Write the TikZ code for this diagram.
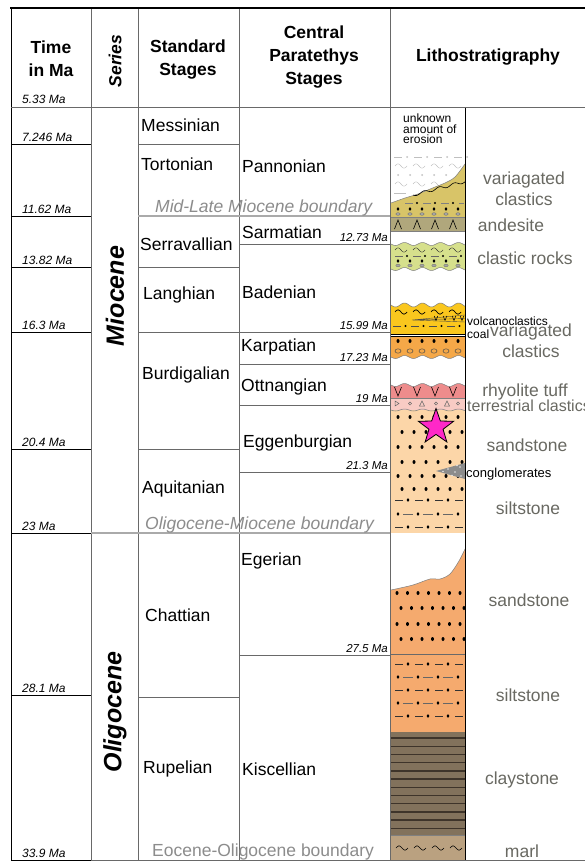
\documentclass[tikz,border=0pt]{standalone}
\usepackage{fontspec}
\setmainfont{Liberation Sans}
\usetikzlibrary{shapes.geometric}
\definecolor{rulegray}{RGB}{105,105,105}
\definecolor{bndgray}{RGB}{170,170,170}
\definecolor{bndtxt}{RGB}{140,140,140}
\definecolor{labgray}{RGB}{105,105,98}
\definecolor{varcl}{RGB}{216,196,104}
\definecolor{andes}{RGB}{176,167,124}
\definecolor{clrock}{RGB}{214,224,140}
\definecolor{volc}{RGB}{250,199,30}
\definecolor{varor}{RGB}{245,168,72}
\definecolor{rhyol}{RGB}{238,140,140}
\definecolor{terrcl}{RGB}{248,203,196}
\definecolor{sandmio}{RGB}{252,214,168}
\definecolor{sandoli}{RGB}{245,170,110}
\definecolor{claycol}{RGB}{130,114,92}
\definecolor{claylin}{RGB}{62,52,42}
\definecolor{marlcol}{RGB}{186,161,128}
\definecolor{starpink}{RGB}{255,40,200}
\tikzset{
  tld/.pic={\draw[pic actions] (-6,0) sin (-3,-2.2) cos (0,0) sin (3,2.2) cos (6,0);},
}

\begin{document}
\begin{tikzpicture}[x=1pt, y=-1pt,
    hdr/.style={font=\fontsize{17.5}{23}\selectfont\bfseries, align=center, inner sep=0},
    stage/.style={font=\fontsize{17.5}{19}\selectfont, anchor=west, inner sep=0},
    age/.style={font=\fontsize{12}{13}\selectfont\itshape, anchor=base west, inner sep=0},
    cpage/.style={font=\fontsize{11.5}{13}\selectfont\itshape, anchor=base east, inner sep=0},
    series/.style={font=\fontsize{25}{27}\selectfont\bfseries\itshape, rotate=90, inner sep=0},
    bndtext/.style={font=\fontsize{17.5}{19}\selectfont, text=bndtxt, anchor=base west, inner sep=0},
    rock/.style={font=\fontsize{17.5}{21}\selectfont, text=labgray, align=center, inner sep=0},
    small/.style={font=\fontsize{12}{13}\selectfont, anchor=base west, inner sep=0},
    rule/.style={rulegray, line width=0.8pt},
    bnd/.style={bndgray, line width=2.2pt},
    edge/.style={black!50, line width=0.5pt}
  ]
\fill[white] (0,0) rectangle (585,862);
\useasboundingbox (0,0) rectangle (585,862);

% --- lithology column ---
% eroded part, faded
\foreach \x in {394,414,434,454} {\draw[black!25] (\x,157) -- ++(8,0); \fill[black!25] (\x+13,157) circle (1);}
\foreach \x in {401,419,437,455} {\pic[draw=black!25] at (\x,166) {tld}; \pic[draw=black!25] at (\x,184) {tld};}
\foreach \x in {398,410,...,458} \fill[black!25] (\x,175) circle (1);
\draw[black!25] (394,193) -- (406,193);

% variegated clastics (upper)
\fill[varcl] plot[smooth] coordinates {(391,203) (405,198) (418,194) (435,187) (445,183) (455,177) (465,164)} -- (465,217) -- (391,217) -- cycle;
\draw[edge] plot[smooth] coordinates {(391,203) (405,198) (418,194) (435,187) (445,183) (455,177) (465,164)};
\draw[line width=0.6pt] plot[domain=413:465,samples=50] (\x,{195-(\x-413)*0.26+1.4*sin(24*(\x-413))});
\foreach \x in {405,423,441} {\draw[black!50] (\x,203) -- ++(8,0); \fill (\x+12,203) circle (1.2);}
\draw[black!50] (459,203) -- (464,203);
\foreach \x in {398,410,...,458} {\fill (\x,209) ellipse (1.4 and 1.9); \filldraw[fill=black!35, draw=black!60, line width=0.3pt] (\x,214) ellipse (2.2 and 1.3);}

% andesite
\fill[andes] (391,217) rectangle (465,231);
\draw[edge] (391,217) -- (465,217) (391,231) -- (465,231);
\foreach \x in {398,417,435,453} \draw[line width=0.6pt] (\x-3.5,229) -- (\x,220) -- (\x+3.5,229);

% clastic rocks
\fill[clrock] plot[domain=391:465,samples=50] (\x,{244+1.5*sin(20*(\x-391))}) -- plot[domain=465:391,samples=50] (\x,{269+1.5*sin(20*(\x-391))}) -- cycle;
\draw[edge] plot[domain=391:465,samples=50] (\x,{244+1.5*sin(20*(\x-391))});
\draw[edge] plot[domain=391:465,samples=50] (\x,{269+1.5*sin(20*(\x-391))});
\foreach \x in {401,419,437,455} \pic[draw=black!80] at (\x,250) {tld};
\foreach \x in {395,413,431,449} {\draw[black!60] (\x,256) -- ++(8,0); \fill (\x+12,256) circle (1.2);}
\foreach \x in {398,410,...,458} {\fill (\x,261) ellipse (1.4 and 1.9); \filldraw[fill=black!35, draw=black!60, line width=0.3pt] (\x,265.5) ellipse (2.2 and 1.3);}

% volcanoclastics and coal
\fill[volc] plot[domain=391:465,samples=50] (\x,{305+2*sin(20*(\x-391))}) -- (465,334) -- (391,334) -- cycle;
\draw[edge] plot[domain=391:465,samples=50] (\x,{305+2*sin(20*(\x-391))});
\foreach \x in {401,419,437,455} \pic[draw=black, line width=0.7pt] at (\x,312) {tld};
\draw[black!70, line width=0.4pt] (412,320) -- (465,315) (412,320) -- (465,318.5) (412,320) -- (465,322);
\foreach \x in {436,445,454,462} \draw[line width=0.5pt] (\x-1.8,316) -- (\x,320.5) -- (\x+1.8,316);
\foreach \x in {393,411,429,447} {\draw[black!70] (\x,326) -- ++(8,0); \fill (\x+12.5,326) circle (1.2);}
\draw[line width=0.9pt] (391,334) -- (465,334);
\draw[line width=0.6pt] (391,336.5) -- (465,336.5);

% variegated clastics (lower)
\fill[varor] (391,337) -- (465,337) -- plot[domain=465:391,samples=50] (\x,{357+1.5*sin(20*(\x-391))}) -- cycle;
\draw[edge] plot[domain=391:465,samples=50] (\x,{357+1.5*sin(20*(\x-391))});
\foreach \x in {398,410,...,458} {\fill (\x,341) ellipse (1.5 and 2); \draw[black!70, line width=0.5pt] (\x,351) ellipse (3 and 2.2);}

% rhyolite tuff
\fill[rhyol] plot[domain=391:465,samples=50] (\x,{385+1.5*sin(20*(\x-391))}) -- (465,398) -- (391,398) -- cycle;
\draw[edge] plot[domain=391:465,samples=50] (\x,{385+1.5*sin(20*(\x-391))});
\foreach \x in {398,417,435,453} \draw[line width=0.6pt] (\x-3.5,387) -- (\x,396) -- (\x+3.5,387);

% terrestrial clastics
\fill[terrcl] (391,398) rectangle (465,410);
\draw[edge] (391,398) -- (465,398);
\draw[black!60, line width=0.5pt] (395,401) -- (399,403.5) -- (395,406) -- cycle;
\foreach \x in {422,447} \draw[black!60, line width=0.5pt] (\x-2.5,406) -- (\x,401) -- (\x+2.5,406) -- cycle;
\foreach \x in {410,436,458} \draw[black!60, line width=0.5pt] (\x,403.5) circle (1.6);

% sandstone and siltstone (Miocene)
\fill[sandmio] (391,410) rectangle (465,533);
\draw[edge] plot[domain=391:465,samples=50] (\x,{410+1*sin(20*(\x-391))});
\foreach \y [count=\i] in {417,432,447,462,476,489} {
  \pgfmathsetmacro\off{mod(\i,2)==0 ? 4 : 0}
  \foreach \x in {398,410,...,458} \fill (\x+\off,\y) ellipse (1.5 and 2);
}
\foreach \y in {500,527} {
  \foreach \x in {395,415,435,455} \draw[black!80, line width=0.6pt] (\x,\y) -- ++(8,0);
  \foreach \x in {408,428,448} \fill (\x,\y) ellipse (1.4 and 1.9);
}
\foreach \x in {403,423,443} \draw[black!60, line width=0.6pt] (\x,514) -- ++(10,0);
\foreach \x in {398,418,438,458} \fill (\x,514) ellipse (1.4 and 1.9);
\fill[black!45] (436,471) -- (465,463) -- (465,479) -- cycle;
\foreach \p in {(448,469),(455,472),(460,467),(452,475.5),(461,476),(443,471.5),(457,465.5)} \fill[black!10] \p circle (0.8);
\node[star, star points=5, star point ratio=2.5, minimum size=37pt, inner sep=0, fill=starpink, draw=black, line width=0.8pt] (site) at (436,427) {};

% sandstone and siltstone (Oligocene)
\fill[sandoli] plot[smooth] coordinates {(391,590) (413,585) (430,579) (440,579) (450,574) (459,561) (465,549)} -- (465,732) -- (391,732) -- cycle;
\draw[edge] plot[smooth] coordinates {(391,590) (413,585) (430,579) (440,579) (450,574) (459,561) (465,549)};
\foreach \y [count=\i] in {593,608,624,639} {
  \pgfmathsetmacro\off{mod(\i,2)==0 ? 4 : 0}
  \foreach \x in {397,407.5,...,460} \fill (\x+\off,\y) ellipse (1.5 and 2);
}
\draw[rulegray, line width=0.8pt] (391,654) -- (465,654);
\foreach \y in {664,690,716} {
  \foreach \x in {395,415,435,455} \draw[black!80, line width=0.6pt] (\x,\y) -- ++(8,0);
  \foreach \x in {408,428,448} \fill (\x,\y) ellipse (1.4 and 1.9);
}
\foreach \y in {677,703} {
  \foreach \x in {403,423,443} \draw[black!60, line width=0.6pt] (\x,\y) -- ++(10,0);
  \foreach \x in {398,418,438,458} \fill (\x,\y) ellipse (1.4 and 1.9);
}

% claystone
\fill[claycol] (391,732) rectangle (465,835);
\foreach \y in {738,746.2,...,830} \draw[claylin, line width=1.4pt] (391,\y) -- (465,\y);

% marl
\fill[marlcol] (391,835) rectangle (465,860);
\draw[edge] (391,835) -- (465,835);
\foreach \x in {402,420,438,456} \pic[draw=black, line width=0.6pt] at (\x,848) {tld};

% --- table ---
\foreach \x in {91,138,239,390} \draw[rule] (\x,8) -- (\x,860);
\draw[black, line width=0.9pt] (11,8) -- (11,860);
\draw[black, line width=0.8pt] (465,107) -- (465,860);
\draw[black, line width=1.3pt] (10,8) -- (585,8);
\draw[rule] (11,107) -- (585,107);
\draw[rule] (91,860) -- (585,860);

% time scale
\node[age] (age0) at (22,103) {5.33 Ma};
\foreach \y/\t [count=\i] in {144/7.246, 216/11.62, 267/13.82, 332/16.3, 449/20.4, 533/23, 695/28.1, 860/33.9} {
  \draw[black, line width=0.8pt] (11,\y) -- (91,\y);
  \node[age] (age\i) at (22,\y-3) {\t\ Ma};
}

% stage boundaries
\foreach \y in {144,267,332,449,697} \draw[rule] (138,\y) -- (239,\y);
\foreach \y/\t [count=\i] in {244/12.73, 332/15.99, 364/17.23, 405/19, 472/21.3, 655/27.5} {
  \draw[rule] (239,\y) -- (390,\y);
  \node[cpage] (cp\i) at (388,\y-2.5) {\t\ Ma};
}
\draw[bnd] (138,216) -- (390,216);
\draw[bnd] (91,533) -- (390,533);

% header
\node[hdr] (hTime) at (51,59) {Time\\in Ma};
\node[hdr, font=\fontsize{17.5}{21}\selectfont\bfseries\itshape, rotate=90] (hSeries) at (115,61) {Series};
\node[hdr] (hStd) at (188,60) {Standard\\Stages};
\node[hdr] (hCP) at (314,57) {Central\\Paratethys\\Stages};
\node[hdr] (hLitho) at (488,57) {Lithostratigraphy};

% series
\node[series] (miocene) at (115,296) {Miocene};
\node[series] (oligocene) at (115,712) {Oligocene};

% standard stages
\node[stage] (messinian) at (141,125) {Messinian};
\node[stage] (tortonian) at (141,164) {Tortonian};
\node[stage] (serravallian) at (140,244) {Serravallian};
\node[stage] (langhian) at (143,295) {Langhian};
\node[stage] (burdigalian) at (142,375) {Burdigalian};
\node[stage] (aquitanian) at (142,489) {Aquitanian};
\node[stage] (chattian) at (145,615) {Chattian};
\node[stage] (rupelian) at (143,769) {Rupelian};

% central Paratethys stages
\node[stage] (pannonian) at (242,166) {Pannonian};
\node[stage] (sarmatian) at (242,232) {Sarmatian};
\node[stage] (badenian) at (242,292) {Badenian};
\node[stage] (karpatian) at (241,347) {Karpatian};
\node[stage] (ottnangian) at (241,387) {Ottnangian};
\node[stage] (eggenburgian) at (243,443) {Eggenburgian};
\node[stage] (egerian) at (241,561) {Egerian};
\node[stage] (kiscellian) at (242,769) {Kiscellian};

% boundary notes
\node[bndtext, font=\fontsize{17.5}{19}\selectfont\itshape] (midlate) at (155,212) {Mid-Late Miocene boundary};
\node[bndtext, font=\fontsize{17.5}{19}\selectfont\itshape] (olimio) at (145,529) {Oligocene-Miocene boundary};
\node[bndtext] (eocoli) at (152,856) {Eocene-Oligocene boundary};

% rock names
\node[font=\fontsize{12}{10.5}\selectfont, align=left, anchor=north west, inner sep=0] (erosion) at (403,114) {unknown\\amount of\\erosion};
\node[rock] (varcl1) at (524,189) {variagated\\clastics};
\node[rock] (andesite) at (511,225) {andesite};
\node[rock] (clrock) at (525,258) {clastic rocks};
\node[small] (volcano) at (467,325) {volcanoclastics};
\node[small] (coal) at (467,338) {coal};
\node[rock] (varcl2) at (531,341) {variagated\\clastics};
\node[rock] (rhyolite) at (525,392) {rhyolite tuff};
\node[rock, font=\fontsize{16}{18}\selectfont, anchor=base west] (terr) at (467,411) {terrestrial clastics};
\node[rock] (sand1) at (527,445) {sandstone};
\node[small, font=\fontsize{13}{14}\selectfont] (congl) at (466,477) {conglomerates};
\node[rock] (silt1) at (528,508) {siltstone};
\node[rock] (sand2) at (529,600) {sandstone};
\node[rock] (silt2) at (528,695) {siltstone};
\node[rock] (clay) at (522,780) {claystone};
\node[rock] (marl) at (522,851) {marl};
\end{tikzpicture}
\end{document}
